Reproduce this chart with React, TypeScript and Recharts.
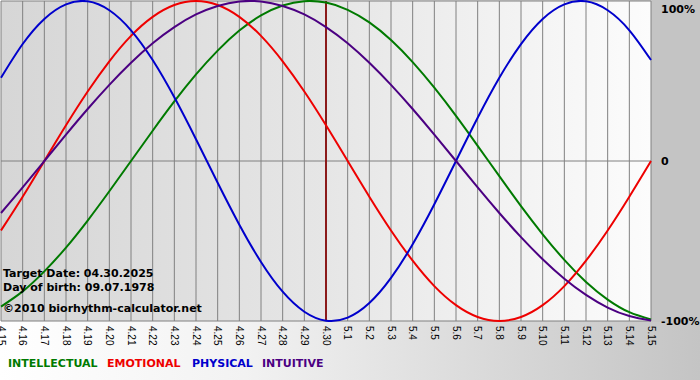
import React from "react";
import { LineChart, Line, CartesianGrid, XAxis, YAxis, ReferenceLine } from "recharts";

const days = [
  "4.15", "4.16", "4.17", "4.18", "4.19", "4.20", "4.21", "4.22", "4.23", "4.24",
  "4.25", "4.26", "4.27", "4.28", "4.29", "4.30", "5.1", "5.2", "5.3", "5.4",
  "5.5", "5.6", "5.7", "5.8", "5.9", "5.10", "5.11", "5.12", "5.13", "5.14", "5.15",
];

const physical = [
  0.52, 0.731, 0.888, 0.979, 0.998, 0.942, 0.817, 0.631, 0.398, 0.136,
  -0.136, -0.398, -0.631, -0.817, -0.942, -0.998, -0.979, -0.888, -0.731, -0.52,
  -0.27, 0, 0.27, 0.52, 0.731, 0.888, 0.979, 0.998, 0.942, 0.817, 0.631,
];
const emotional = [
  -0.434, -0.223, 0, 0.223, 0.434, 0.623, 0.782, 0.901, 0.975, 1.0,
  0.975, 0.901, 0.782, 0.623, 0.434, 0.223, 0, -0.223, -0.434, -0.623,
  -0.782, -0.901, -0.975, -1.0, -0.975, -0.901, -0.782, -0.623, -0.434, -0.223, 0,
];
const intellectual = [
  -0.91, -0.815, -0.69, -0.541, -0.372, -0.189, 0, 0.189, 0.372, 0.541,
  0.69, 0.815, 0.91, 0.972, 0.999, 0.99, 0.945, 0.866, 0.756, 0.618,
  0.458, 0.282, 0.095, -0.095, -0.282, -0.458, -0.618, -0.756, -0.866, -0.945, -0.99,
];
const intuitive = [
  -0.325, -0.165, 0, 0.165, 0.325, 0.476, 0.614, 0.736, 0.837, 0.916,
  0.969, 0.997, 0.997, 0.969, 0.916, 0.837, 0.736, 0.614, 0.476, 0.325,
  0.165, 0, -0.165, -0.325, -0.476, -0.614, -0.736, -0.837, -0.916, -0.969, -0.997,
];

const yTicks = [-1, 0, 1];
const yLabels: Record<string, string> = { "-1": "-100%", "0": "0", "1": "100%" };
const targetDay = "4.30";

const legendItems = [
  { label: "INTELLECTUAL", color: "#007a00", x: 8 },
  { label: "EMOTIONAL", color: "#ee0000", x: 107 },
  { label: "PHYSICAL", color: "#0000cc", x: 192 },
  { label: "INTUITIVE", color: "#4b0082", x: 262 },
];

const infoLines = [
  "Target Date: 04.30.2025",
  "Day of birth: 09.07.1978",
  "©2010 biorhythm-calculator.net",
];

const data = days.map((day, i) => ({
  day,
  physical: physical[i],
  emotional: emotional[i],
  intellectual: intellectual[i],
  intuitive: intuitive[i],
}));

const BOLD = { fontFamily: "'DejaVu Sans', Verdana, sans-serif", fontWeight: 700, fontSize: 11 };

function DayTick(props: any) {
  const { x, y, payload } = props;
  return (
    <g transform={`translate(${x},${y})`}>
      <text
        transform="rotate(90)"
        x={0}
        y={0}
        dy="0.35em"
        textAnchor="start"
        fill="#000"
        style={{ fontFamily: "'Liberation Sans', Arial, sans-serif", fontSize: 10 }}
      >
        {payload.value}
      </text>
    </g>
  );
}

function PercentTick(props: any) {
  const { x, y, payload } = props;
  return (
    <text x={x + 8} y={Math.max(y, 8)} dy="0.35em" textAnchor="start" fill="#000" style={BOLD}>
      {yLabels[String(payload.value)]}
    </text>
  );
}

export default function App() {
  return (
    <div
      style={{
        position: "absolute",
        left: 0,
        top: 0,
        width: 700,
        height: 380,
        overflow: "hidden",
        background: "linear-gradient(to right, #ffffff 0%, #f2f2f2 35%, #c4c4c4 100%)",
      }}
    >
      {/* right gray panel + plot background */}
      <div style={{ position: "absolute", left: 651, top: 0, width: 49, height: 322, background: "#c4c4c4" }} />
      <div
        style={{
          position: "absolute",
          left: 1,
          top: 1,
          width: 650,
          height: 320,
          background: "linear-gradient(to right, #d6d6d6 0%, #e6e6e6 50%, #fcfcfc 100%)",
        }}
      />
      <div style={{ position: "absolute", left: 0, top: 0 }}>
        <LineChart width={700} height={380} data={data} margin={{ top: 1, right: 0, bottom: 0, left: 1 }}>
          <CartesianGrid stroke="#808080" strokeWidth={1} />
          <XAxis
            dataKey="day"
            interval={0}
            height={59}
            tickSize={0}
            tickMargin={5}
            axisLine={false}
            tick={<DayTick />}
          />
          <YAxis
            orientation="right"
            width={49}
            domain={[-1, 1]}
            ticks={yTicks}
            axisLine={false}
            tickLine={false}
            tickSize={0}
            tick={<PercentTick />}
          />
          <ReferenceLine x={targetDay} stroke="#8b1a1a" strokeWidth={2} />
          <Line type="natural" dataKey="intellectual" stroke="#007a00" strokeWidth={2} dot={false} isAnimationActive={false} />
          <Line type="natural" dataKey="emotional" stroke="#ee0000" strokeWidth={2} dot={false} isAnimationActive={false} />
          <Line type="natural" dataKey="physical" stroke="#0000cc" strokeWidth={2} dot={false} isAnimationActive={false} />
          <Line type="natural" dataKey="intuitive" stroke="#4b0082" strokeWidth={2} dot={false} isAnimationActive={false} />
        </LineChart>
      </div>
      <svg width={700} height={380} style={{ position: "absolute", left: 0, top: 0, pointerEvents: "none" }}>
        {infoLines.map((t, i) => (
          <text key={t} x={3} y={[277, 291, 312][i]} fill="#000" style={BOLD}>
            {t}
          </text>
        ))}
        {legendItems.map((it) => (
          <text key={it.label} x={it.x} y={367} fill={it.color} style={BOLD}>
            {it.label}
          </text>
        ))}
      </svg>
    </div>
  );
}
